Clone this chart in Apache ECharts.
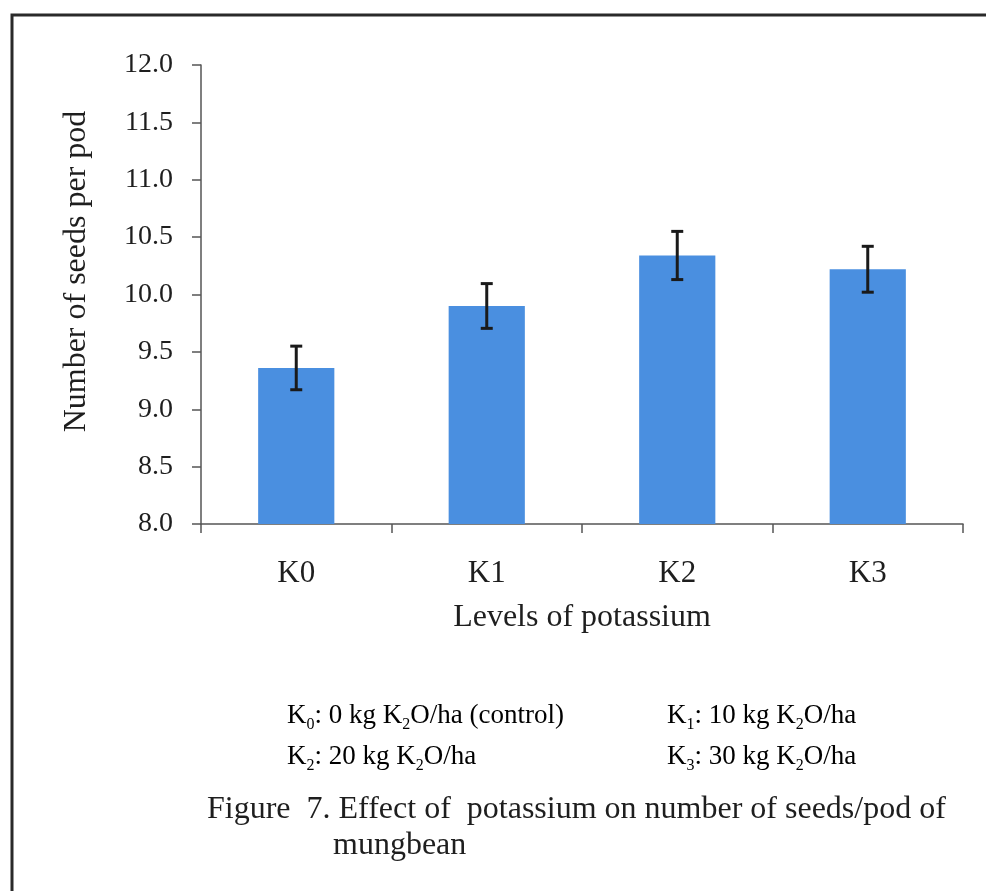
<!DOCTYPE html>
<html><head><meta charset="utf-8">
<script src="https://cdn.jsdelivr.net/npm/echarts@6/dist/echarts.min.js"></script>
<style>html,body{margin:0;padding:0;background:#fff}#c{width:986px;height:891px}</style>
</head><body><div id="c"></div>
<script>
const categories = ['K0', 'K1', 'K2', 'K3'];
const seedsPerPod = [9.36, 9.90, 10.34, 10.22];
const errorMargin = [0.19, 0.195, 0.21, 0.20];
const yMin = 8.0, yMax = 12.0, yInterval = 0.5;
const xTitle = 'Levels of potassium';
const yTitle = 'Number of seeds per pod';

const FONT = '"Liberation Serif", "Times New Roman", serif';
const TXT = '#1e1e1e';
const chart = echarts.init(document.getElementById('c'));

const errData = categories.map((c, i) => [i, seedsPerPod[i] - errorMargin[i], seedsPerPod[i] + errorMargin[i]]);

function legendRich(size) {
  return {
    k: {fontSize: size, fontFamily: FONT, color: TXT, lineHeight: 34},
    s: {fontSize: 16, fontFamily: FONT, color: TXT, lineHeight: 18, verticalAlign: 'bottom'}
  };
}
function legendItem(x, y, idx, rest) {
  return {
    type: 'text', x: x, y: y, silent: true,
    style: {
      text: '{k|K}{s|' + idx + '}{k|: ' + rest[0] + ' kg K}{s|2}{k|O/ha' + rest[1] + '}',
      rich: legendRich(27), align: 'left', verticalAlign: 'middle'
    }
  };
}

chart.setOption({
  animation: false,
  backgroundColor: '#ffffff',
  grid: {left: 201, right: 23, top: 65, bottom: 367},
  xAxis: {
    type: 'category', data: categories,
    name: xTitle, nameLocation: 'middle', nameGap: 78,
    nameTextStyle: {fontFamily: FONT, fontSize: 32, color: TXT},
    axisLine: {show: true, lineStyle: {color: '#555', width: 1.5}},
    axisTick: {show: true, length: 9, lineStyle: {color: '#555', width: 1.5}},
    axisLabel: {fontFamily: FONT, fontSize: 31, color: TXT, margin: 34}
  },
  yAxis: {
    type: 'value', min: yMin, max: yMax, interval: yInterval,
    name: yTitle, nameLocation: 'middle', nameGap: 108,
    nameTextStyle: {fontFamily: FONT, fontSize: 32, color: TXT, padding: [0, 0, 0, 46]},
    axisLine: {show: true, lineStyle: {color: '#555', width: 1.5}},
    axisTick: {show: true, length: 9, lineStyle: {color: '#555', width: 1.5}},
    splitLine: {show: false},
    axisLabel: {fontFamily: FONT, fontSize: 28, color: TXT, margin: 28,
      formatter: v => v.toFixed(1)}
  },
  series: [
    {
      type: 'bar', data: seedsPerPod, barWidth: '40%',
      itemStyle: {color: '#4a8fe0'}
    },
    {
      type: 'custom', data: errData, encode: {x: 0, y: [1, 2]}, z: 5,
      renderItem: function (params, api) {
        const lo = api.coord([api.value(0), api.value(1)]);
        const hi = api.coord([api.value(0), api.value(2)]);
        const h = 6;
        const st = {stroke: '#1a1a1a', lineWidth: 3};
        return {type: 'group', children: [
          {type: 'line', shape: {x1: hi[0], y1: hi[1], x2: lo[0], y2: lo[1]}, style: st},
          {type: 'line', shape: {x1: hi[0] - h, y1: hi[1], x2: hi[0] + h, y2: hi[1]}, style: st},
          {type: 'line', shape: {x1: lo[0] - h, y1: lo[1], x2: lo[0] + h, y2: lo[1]}, style: st}
        ]};
      }
    }
  ],
  graphic: [
    {type: 'polyline', silent: true, shape: {points: [[12, 891], [12, 15], [986, 15]]},
      style: {stroke: '#2a2a2a', lineWidth: 3, fill: null}},
    legendItem(287, 716, '0', ['0', ' (control)']),
    legendItem(667, 716, '1', ['10', '']),
    legendItem(287, 757, '2', ['20', '']),
    legendItem(667, 757, '3', ['30', '']),
    {type: 'text', x: 207, y: 810, silent: true,
      style: {text: 'Figure  7. Effect of  potassium on number of seeds/pod of', fontFamily: FONT,
        fontSize: 32, fill: TXT, align: 'left', verticalAlign: 'middle'}},
    {type: 'text', x: 333, y: 846, silent: true,
      style: {text: 'mungbean', fontFamily: FONT, fontSize: 32, fill: TXT, align: 'left', verticalAlign: 'middle'}}
  ]
});
</script>
</body></html>
